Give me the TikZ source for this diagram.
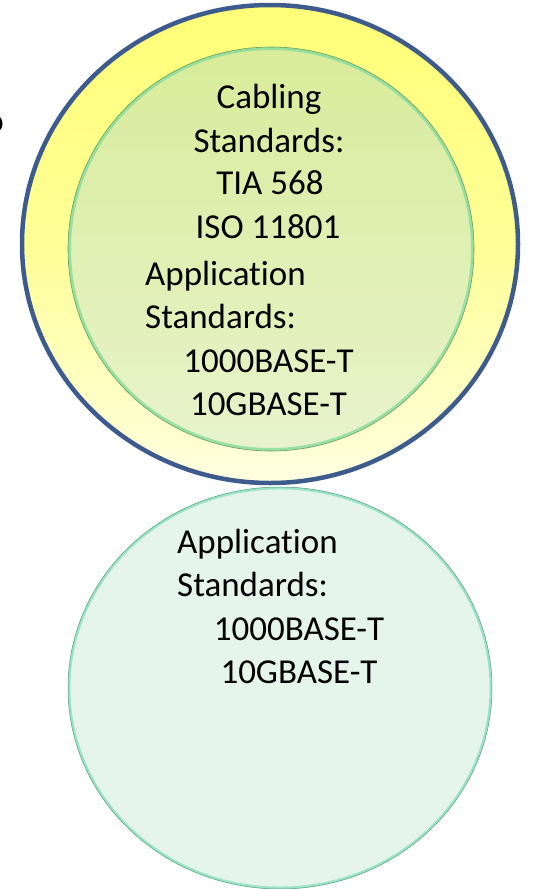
\documentclass[tikz,border=0pt]{standalone}
\usepackage{fontspec}
\setmainfont{Carlito}[RawFeature={-liga}]
\usetikzlibrary{positioning}
\definecolor{stdRing}{HTML}{3D5B8C}
\definecolor{stdYellowTop}{HTML}{FFFF78}
\definecolor{stdYellowBot}{HTML}{FFFFE0}
\definecolor{stdLimeTop}{HTML}{D8EC9A}
\definecolor{stdLimeBot}{HTML}{E8F3CC}
\definecolor{stdLimeRim}{HTML}{86DC9E}
\definecolor{stdLimeEdge}{HTML}{6E9E58}
\definecolor{stdMint}{HTML}{E6F5EC}
\definecolor{stdMintRim}{HTML}{7CDFB8}
\definecolor{stdMintEdge}{HTML}{5A9A86}
\tikzset{
    stdText/.style={inner sep=0pt, font=\fontsize{35}{43.5}\selectfont, text=black},
    centreLine/.style={stdText, anchor=base},
    leftLine/.style={stdText, anchor=base west}
}
\begin{document}
\begin{tikzpicture}[x=1pt, y=-1pt]
\useasboundingbox (0,0) rectangle (543,889);

% outer cabling ring
\shade[top color=stdYellowTop, bottom color=stdYellowBot, middle color=stdYellowTop!70!stdYellowBot] (270,244) ellipse [x radius=248pt, y radius=239pt];
\draw[stdRing, line width=4.5pt] (270,244) ellipse [x radius=248pt, y radius=239pt];

% inner application disc
\shade[top color=stdLimeTop, bottom color=stdLimeBot] (271,249) ellipse [x radius=203pt, y radius=202pt];
\draw[stdLimeRim, line width=3pt, opacity=0.8] (271,249) ellipse [x radius=201.5pt, y radius=200.5pt];
\draw[stdLimeEdge, line width=0.6pt] (271,249) ellipse [x radius=203pt, y radius=202pt];

% lower disc
\fill[stdMint] (280,688) ellipse [x radius=212pt, y radius=201pt];
\draw[stdMintRim, line width=2.5pt, opacity=0.7] (280,688) ellipse [x radius=210.8pt, y radius=199.8pt];
\draw[stdMintEdge, line width=0.5pt] (280,688) ellipse [x radius=212pt, y radius=201pt];

% cut-off letter at the left edge
\node[stdText, anchor=base east] (cut) at (4,132) {o};

% texts of the upper disc
\node[centreLine] (cab1) at (269,108) {Cabling};
\node[centreLine] (cab2) at (269,152) {Standards:};
\node[centreLine] (cab3) at (270,194) {TIA 568};
\node[centreLine] (cab4) at (268,238) {ISO 11801};
\node[leftLine] (app1) at (145,285) {Application};
\node[leftLine] (app2) at (145,328) {Standards:};
\node[centreLine] (app3) at (268.5,372) {1000BASE-T};
\node[centreLine] (app4) at (268.5,415) {10GBASE-T};

% texts of the lower disc
\node[leftLine] (low1) at (177,553) {Application};
\node[leftLine] (low2) at (177,596) {Standards:};
\node[centreLine] (low3) at (299,640) {1000BASE-T};
\node[centreLine] (low4) at (299,683) {10GBASE-T};
\end{tikzpicture}
\end{document}
